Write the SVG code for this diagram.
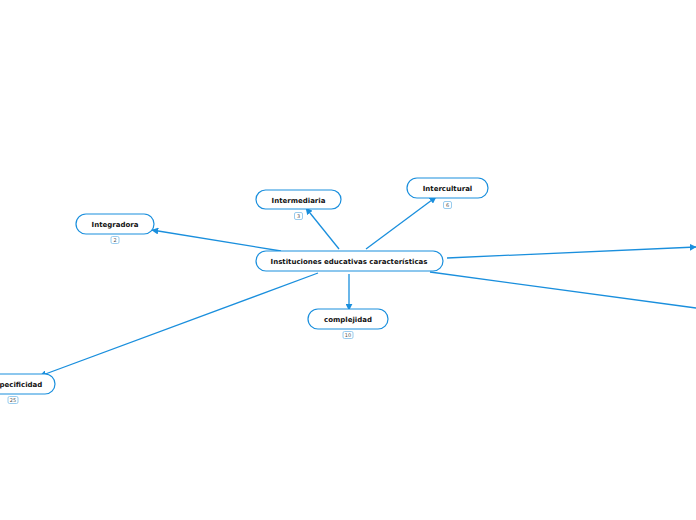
<svg xmlns="http://www.w3.org/2000/svg" width="696" height="520" viewBox="0 0 696 520">
<defs>
<style>
.node{fill:#fff;stroke:#1a8fdd;stroke-width:1.2}
.t{font-family:"DejaVu Sans",Verdana,sans-serif;font-weight:bold;font-size:7px;fill:#111;text-anchor:middle}
.b{fill:#fff;stroke:#7fbfea;stroke-width:0.8}
.bt{font-family:"DejaVu Sans",sans-serif;font-size:5px;fill:#555;text-anchor:middle}
.c{stroke:#1a8fdd;stroke-width:1.3;fill:none}
</style>
<marker id="ah" viewBox="0 0 10 10" refX="9" refY="5" markerWidth="7" markerHeight="7" markerUnits="userSpaceOnUse" orient="auto">
<path d="M0,0 L10,5 L0,10 Z" fill="#1a8fdd"/>
</marker>
</defs>
<rect width="696" height="520" fill="#fff"/>
<g id="connectors">
<line class="c" x1="281" y1="251" x2="152" y2="230" marker-end="url(#ah)"/>
<line class="c" x1="339" y1="249" x2="306" y2="208" marker-end="url(#ah)"/>
<line class="c" x1="366" y1="249" x2="436" y2="197" marker-end="url(#ah)"/>
<line class="c" x1="447" y1="258" x2="696" y2="247" marker-end="url(#ah)"/>
<line class="c" x1="430" y1="272" x2="696" y2="308"/>
<line class="c" x1="349" y1="274" x2="349" y2="310" marker-end="url(#ah)"/>
<line class="c" x1="318" y1="273" x2="40" y2="376" marker-end="url(#ah)"/>
</g>
<g id="central">
<rect class="node" x="256" y="251" width="187" height="20" rx="10"/>
<text class="t" x="349" y="264">Instituciones educativas características</text>
</g>
<g id="intermediaria">
<rect class="node" x="256" y="190" width="85" height="19" rx="9.5"/>
<text class="t" x="298.5" y="202.5">Intermediaria</text>
<rect class="b" x="294.5" y="212.5" width="8" height="7" rx="1.5"/>
<text class="bt" x="298.5" y="218">3</text>
</g>
<g id="intercultural">
<rect class="node" x="407" y="178" width="81" height="20" rx="10"/>
<text class="t" x="447.5" y="191">Intercultural</text>
<rect class="b" x="443.5" y="201.5" width="8" height="7" rx="1.5"/>
<text class="bt" x="447.5" y="207">6</text>
</g>
<g id="integradora">
<rect class="node" x="76" y="214" width="78" height="20" rx="10"/>
<text class="t" x="115" y="227">Integradora</text>
<rect class="b" x="111" y="236.5" width="8" height="7" rx="1.5"/>
<text class="bt" x="115" y="242">2</text>
</g>
<g id="complejidad">
<rect class="node" x="308" y="309" width="80" height="20" rx="10"/>
<text class="t" x="348" y="322">complejidad</text>
<rect class="b" x="343" y="331.5" width="10" height="7" rx="1.5"/>
<text class="bt" x="348" y="337">10</text>
</g>
<g id="especificidad">
<rect class="node" x="-30" y="374" width="85" height="20" rx="10"/>
<text class="t" x="16.5" y="387">especificidad</text>
<rect class="b" x="8" y="396.5" width="10" height="7" rx="1.5"/>
<text class="bt" x="13" y="402">25</text>
</g>
</svg>
